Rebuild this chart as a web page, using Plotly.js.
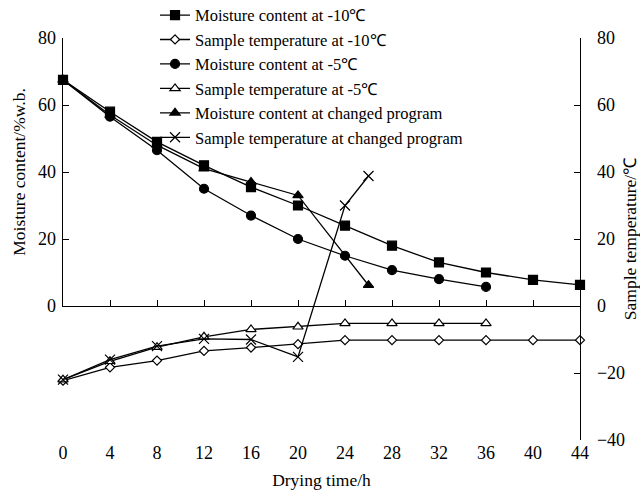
<!DOCTYPE html>
<html><head><meta charset="utf-8">
<script src="https://cdn.plot.ly/plotly-3.0.1.min.js"></script>
<style>html,body{margin:0;padding:0;background:#fff}</style>
</head><body>
<div id="chart" style="width:640px;height:490px"></div>
<script>
// Drying time (h)
const timeM10 = [0,4,8,12,16,20,24,28,32,36,40,44];
const timeM5 = [0,4,8,12,16,20,24,28,32,36];
const timeChanged = [0,4,8,12,16,20,24,26];
const timeChangedM = [0,4,8,12,16,20,26];

// Moisture content (%w.b.)
const moistM10 = [67.5,58,49,42,35.5,30,24,18,13,10,7.8,6.3];
const moistM5 = [67.5,56.5,46.5,35,27,20,15,10.7,8,5.7];
const moistChanged = [67.5,57,48,41,37,33,6.2];

// Sample temperature (℃)
const tempM10 = [-22.3,-18.3,-16.3,-13.4,-12.4,-11.4,-10.2,-10.2,-10.2,-10.2,-10.2,-10.2];
const tempM5 = [-22,-16.5,-12.3,-9.2,-7,-6.2,-5.2,-5.2,-5.2,-5.2];
const tempChanged = [-22,-16,-12,-9.8,-10,-15.2,30,38.8];

const xTicks = [0,4,8,12,16,20,24,28,32,36,40,44];
const yLeftTicks = [0,20,40,60,80];
const yRightTicks = [-40,-20,0,20,40,60,80];

const line = {color:'#000', width:1.3};
function tr(name, x, y, symbol, size, ax, filled){
  return {
    type:'scatter', mode:'lines+markers', name:name, x:x, y:y,
    xaxis: ax==='m' ? 'x' : 'x2', yaxis: ax==='m' ? 'y' : 'y2',
    line: line, cliponaxis:false,
    marker:{symbol:symbol, size:size, color: filled ? '#000' : '#fff', line:{color:'#000', width:1.2}}
  };
}
const data = [
  tr('Moisture content at -10℃', timeM10, moistM10, 'square', 9, 'm', true),
  tr('Sample temperature at -10℃', timeM10, tempM10, 'diamond', 7, 't', false),
  tr('Moisture content at -5℃', timeM5, moistM5, 'circle', 9, 'm', true),
  tr('Sample temperature at -5℃', timeM5, tempM5, 'triangle-up', 9, 't', false),
  tr('Moisture content at changed program', timeChangedM, moistChanged, 'triangle-up', 9, 'm', true),
  tr('Sample temperature at changed program', timeChanged, tempChanged, 'x-thin', 10, 't', false)
];
const fam = '"Liberation Serif", "Times New Roman", serif';
const tickFont = {family:fam, size:18, color:'#000'};
const titleFont = {family:fam, size:17.5, color:'#000'};
const layout = {
  width:640, height:490,
  margin:{l:63, r:60, t:38, b:50, autoexpand:false},
  paper_bgcolor:'#fff', plot_bgcolor:'rgba(0,0,0,0)',
  font: {family:fam, size:16, color:'#000'},
  showlegend:true,
  legend:{x:0.178, y:1.10, xanchor:'left', yanchor:'top',
    bgcolor:'rgba(0,0,0,0)', font:{family:fam, size:16.5, color:'#000'}, tracegroupgap:0},
  xaxis:{domain:[0,1], range:[0,44], anchor:'y', showline:true, linecolor:'#000', linewidth:1.3,
    ticks:'inside', ticklen:6, tickcolor:'#000', tickvals:xTicks, showticklabels:false,
    showgrid:false, zeroline:false},
  xaxis2:{domain:[0,1], range:[0,44], matches:'x', anchor:'y2', showline:false, ticks:'',
    tickvals:xTicks, showgrid:false, zeroline:false, tickfont:tickFont,
    title:{text:'Drying time/h', font:titleFont, standoff:12}},
  yaxis:{domain:[1/3,1], range:[0,80], anchor:'x', side:'left', showline:true, linecolor:'#000', linewidth:1.3,
    ticks:'inside', ticklen:6, tickcolor:'#000', tickvals:yLeftTicks, showgrid:false, zeroline:false, tickfont:tickFont,
    ticklabelstandoff:2,
    title:{text:'Moisture content/%w.b.', font:titleFont, standoff:8}},
  yaxis2:{domain:[0,1], range:[-40,80], anchor:'x2', side:'right', showline:true, linecolor:'#000', linewidth:1.3,
    ticks:'inside', ticklen:6, tickcolor:'#000', tickvals:yRightTicks, showgrid:false, zeroline:false, tickfont:tickFont,
    ticklabelstandoff:12,
    title:{text:'Sample temperature/℃', font:titleFont, standoff:14}}
};
Plotly.newPlot('chart', data, layout, {displayModeBar:false, staticPlot:true});
</script>
</body></html>
